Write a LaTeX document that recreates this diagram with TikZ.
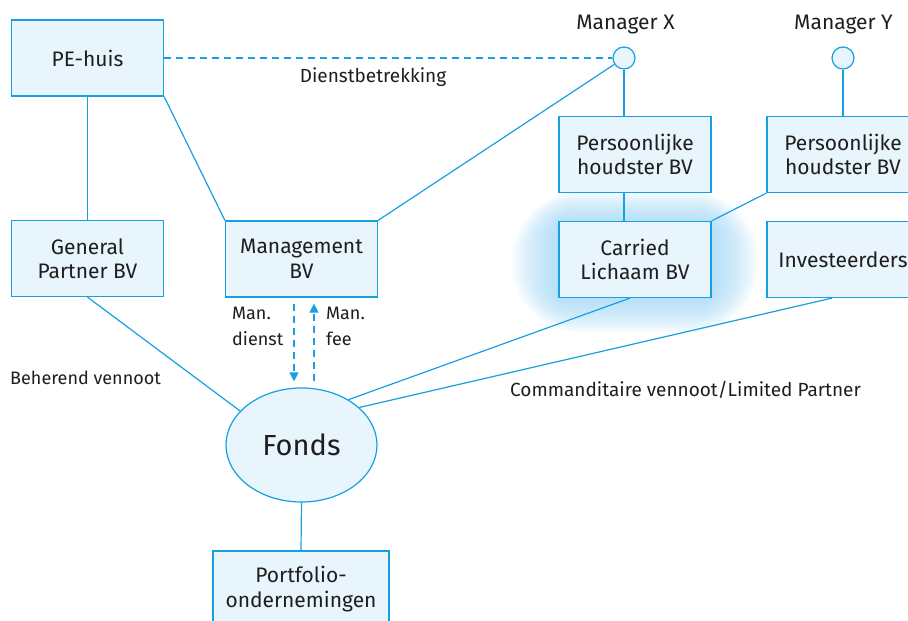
\documentclass[tikz,border=0pt]{standalone}
\usepackage{fontspec}
\setmainfont{Fira Sans}
\usetikzlibrary{arrows.meta,shapes.geometric}
\definecolor{lineblue}{RGB}{22,160,226}
\definecolor{boxfill}{RGB}{232,245,252}
\definecolor{glowblue}{RGB}{150,210,244}
\definecolor{ink}{RGB}{30,30,30}
\begin{document}
\begin{tikzpicture}[x=1pt,y=-1pt,
  every node/.style={font=\fontsize{19}{25}\selectfont, text=ink},
  box/.style={draw=lineblue, fill=boxfill, line width=1.2pt, minimum width=152pt,
    minimum height=76pt, align=center, inner sep=0pt, font=\fontsize{21}{24.5}\selectfont},
  link/.style={draw=lineblue, line width=1.2pt},
  dashlink/.style={link, dash pattern=on 7pt off 5pt},
  person/.style={circle, draw=lineblue, fill=boxfill, line width=1.2pt,
    minimum size=22pt, inner sep=0pt},
  lbl/.style={align=left, inner sep=0pt},
  small/.style={font=\fontsize{18}{26}\selectfont}]
\useasboundingbox (0,0) rectangle (908,621);
\clip (0,0) rectangle (908,621);

% soft halo behind the carried-interest vehicle
\foreach \i in {1,...,32} {
  \pgfmathsetmacro\rc{10+1.9*\i}
  \fill[glowblue, fill opacity=0.036, rounded corners=\rc pt]
    ({559-1.5*\i},{223-1.0*\i}) rectangle ({711+1.5*\i},{298+1.1*\i});
}

% boxes
\node[box] (pe)  at (87.5,58)    {PE-huis};
\node[box] (gp)  at (87.5,258.5) {General\\Partner BV};
\node[box] (mb)  at (301.5,259)  {Management\\BV};
\node[box] (phx) at (635,154.5)  {Persoonlijke\\houdster BV};
\node[box] (phy) at (843,154.5)  {Persoonlijke\\houdster BV};
\node[box] (cl)  at (635,259.5)  {Carried\\Lichaam BV};
\node[box] (inv) at (843,259.5)  {Investeerders};
\node[ellipse, draw=lineblue, fill=boxfill, line width=1.2pt, minimum width=151pt,
  minimum height=114pt, inner sep=0pt, font=\fontsize{29}{32}\selectfont] (fonds) at (301.5,445) {Fonds};
\node[box, minimum width=176pt] (pf) at (301,589) {Portfolio-\\ondernemingen};

% managers
\node[person] (mx) at (624,58) {};
\node[person] (my) at (843,58) {};
\node[font=\fontsize{21}{24}\selectfont] (mxl) at (625.5,25) {Manager X};
\node[font=\fontsize{21}{24}\selectfont] (myl) at (843.5,25) {Manager Y};

% connectors
\draw[link] (pe.south) -- (gp.north);
\draw[link] (pe.south east) -- (mb.north west);
\draw[dashlink] (pe.east) -- (mx.west);
\draw[link] (mb.north east) -- (mx);
\draw[link] (mx.south) -- (mx.south |- phx.north);
\draw[link] (my.south) -- (phy.north);
\draw[link] (mx.south |- phx.south) -- (mx.south |- cl.north);
\draw[link] (phy.south west) -- (cl.north east);
\draw[link] (gp.south) -- (fonds.151);
\draw[link] ([xshift=-5pt]cl.south) -- (fonds.44);
\draw[link] ([xshift=-11pt]inv.south) -- (fonds.33);
\draw[link] (fonds.south) -- (pf.north);

% service and fee flows
\draw[dashlink, -{Triangle[width=9pt,length=9pt]}, shorten <=6pt, shorten >=6pt]
  ([xshift=-7.5pt]mb.south) -- ([xshift=-7.5pt]mb.south |- fonds.north);
\draw[dashlink, -{Triangle[width=9pt,length=9pt]}, shorten <=6pt, shorten >=6pt]
  ([xshift=12.5pt]mb.south |- fonds.north) -- ([xshift=12.5pt]mb.south);

% labels
\node (dl) at (373,77) {Dienstbetrekking};
\node[lbl, small, anchor=west] (md) at (232,326) {Man.\\dienst};
\node[lbl, small, anchor=west] (mf) at (326,326) {Man.\\fee};
\node[lbl, small, anchor=west] (bv) at (10,378) {Beherend vennoot};
\node[lbl, anchor=west] (cv) at (510,390) {Commanditaire vennoot/Limited Partner};
\end{tikzpicture}
\end{document}
